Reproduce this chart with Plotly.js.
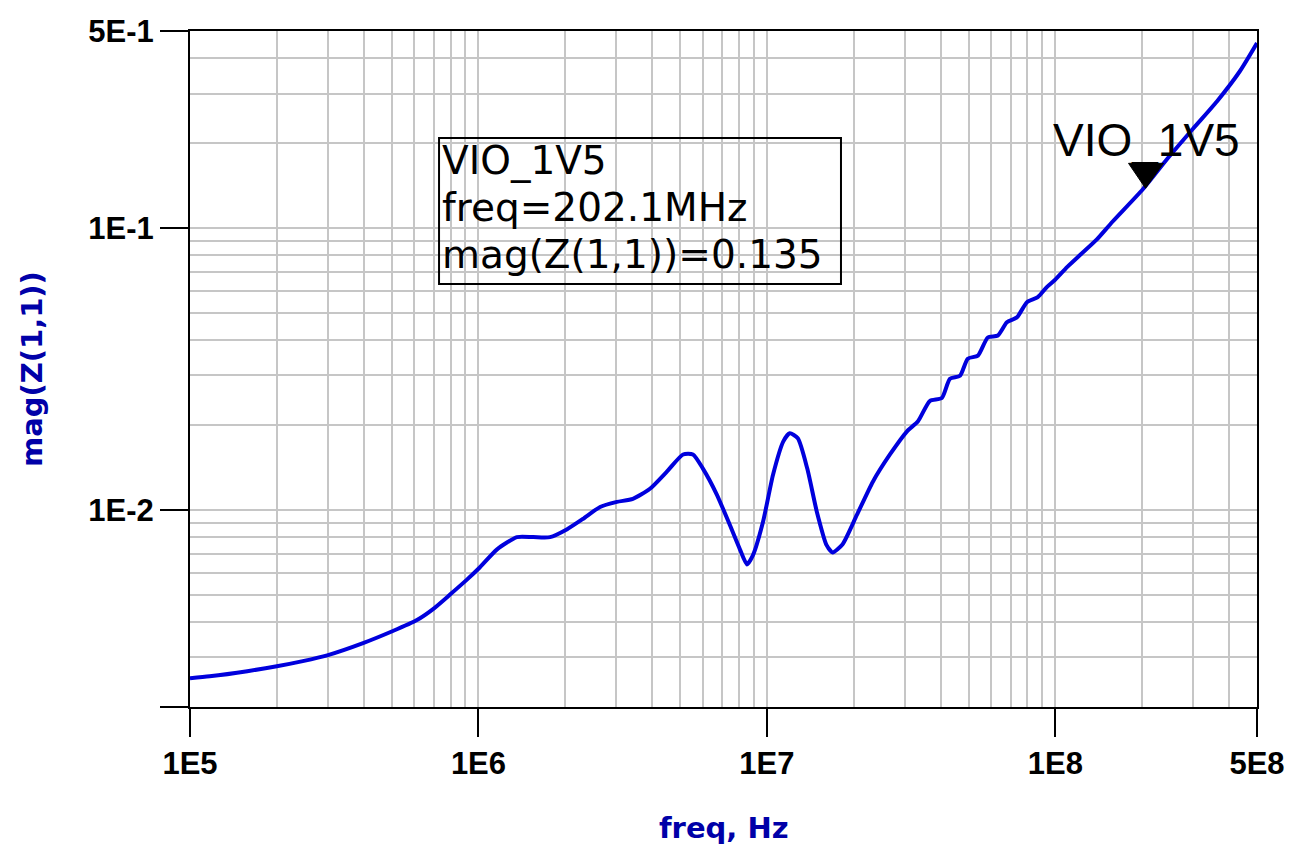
<!DOCTYPE html>
<html>
<head>
<meta charset="utf-8">
<script src="https://cdn.plot.ly/plotly-3.0.1.min.js"></script>
<style>html,body{margin:0;padding:0;background:#fff;}#chart{width:1293px;height:846px;}</style>
</head>
<body>
<div id="chart"></div>
<script>
// Frequency (Hz) and impedance magnitude
const freq = [1.0e5, 1.17e5, 1.58e5, 2.0e5, 2.46e5, 2.99e5, 3.98e5, 5.05e5, 6.12e5, 6.96e5,
  7.97e5, 9.12e5, 1.01e6, 1.16e6, 1.36e6, 1.55e6, 1.77e6, 2.03e6, 2.30e6, 2.64e6,
  3.02e6, 3.43e6, 3.93e6, 4.50e6, 5.12e6, 5.54e6, 6.00e6, 6.71e6, 7.44e6, 8.06e6,
  8.53e6, 8.94e6, 9.69e6, 1.05e7, 1.14e7, 1.20e7, 1.28e7, 1.38e7, 1.49e7, 1.61e7,
  1.69e7, 1.83e7, 2.05e7, 2.33e7, 2.67e7, 3.06e7, 3.34e7, 3.67e7, 4.04e7, 4.31e7,
  4.67e7, 4.97e7, 5.39e7, 5.83e7, 6.32e7, 6.79e7, 7.36e7, 7.97e7, 8.69e7, 9.34e7,
  9.96e7, 1.10e8, 1.22e8, 1.39e8, 1.58e8, 2.01e8, 2.44e8, 3.00e8, 3.63e8, 4.36e8, 5.0e8];
const mag = [2.53e-3, 2.57e-3, 2.68e-3, 2.79e-3, 2.91e-3, 3.05e-3, 3.37e-3, 3.72e-3, 4.07e-3, 4.45e-3,
  5.01e-3, 5.66e-3, 6.25e-3, 7.25e-3, 8.01e-3, 8.01e-3, 8.01e-3, 8.55e-3, 9.29e-3, 1.025e-2,
  1.068e-2, 1.095e-2, 1.189e-2, 1.368e-2, 1.573e-2, 1.573e-2, 1.402e-2, 1.132e-2, 8.84e-3, 7.25e-3,
  6.41e-3, 6.90e-3, 9.06e-3, 1.334e-2, 1.751e-2, 1.870e-2, 1.795e-2, 1.402e-2, 9.84e-3, 7.50e-3,
  7.07e-3, 7.56e-3, 9.60e-3, 1.260e-2, 1.573e-2, 1.901e-2, 2.064e-2, 2.434e-2, 2.494e-2, 2.919e-2,
  2.991e-2, 3.441e-2, 3.527e-2, 4.090e-2, 4.159e-2, 4.629e-2, 4.824e-2, 5.458e-2, 5.687e-2, 6.175e-2,
  6.541e-2, 7.284e-2, 8.039e-2, 9.096e-2, 0.1055, 0.1373, 0.1758, 0.2251, 0.2812, 0.3599, 0.4532];

const xTickVals = [1e5, 1e6, 1e7, 1e8, 5e8];
const xTickText = ['1E5', '1E6', '1E7', '1E8', '5E8'];
const yTickVals = [0.002, 0.01, 0.1, 0.5];
const yTickText = ['', '1E-2', '1E-1', '5E-1'];

const markerName = 'VIO_1V5';
const markerFreq = 202.1e6;
const markerMag = 0.135;

const xRange = [Math.log10(1e5), Math.log10(5e8)];
const yRange = [Math.log10(0.002), Math.log10(0.5)];

const gridCol = '#c6c6c6';
const tickFont = {family: 'Liberation Sans, Arial, sans-serif', size: 31, color: '#000', weight: 'bold'};
const titleFont = {family: 'DejaVu Sans, sans-serif', size: 29, color: '#0000A8', weight: 'bold'};
const boxFont = {family: 'DejaVu Sans, sans-serif', size: 39, color: '#000'};
const labelFont = {family: 'Liberation Sans, Arial, sans-serif', size: 46, color: '#000'};

const trace = {
  x: freq, y: mag, type: 'scatter', mode: 'lines',
  line: {color: '#0000DD', width: 4, shape: 'spline', smoothing: 0.6},
  hoverinfo: 'x+y', showlegend: false
};

const axisCommon = {
  type: 'log', showline: true, linecolor: '#000', linewidth: 2, mirror: true,
  ticks: 'outside', ticklen: 28, tickwidth: 2, tickcolor: '#000',
  showgrid: true, gridcolor: gridCol, gridwidth: 2, zeroline: false,
  tickmode: 'array', tickfont: tickFont,
  minor: {dtick: 'D1', showgrid: true, gridcolor: gridCol, gridwidth: 2, ticks: ''}
};

const layout = {
  width: 1293, height: 846,
  margin: {l: 190, r: 36, t: 31, b: 139},
  paper_bgcolor: '#fff', plot_bgcolor: '#fff',
  showlegend: false,
  xaxis: Object.assign({}, axisCommon, {range: xRange, tickvals: xTickVals, ticktext: xTickText}),
  yaxis: Object.assign({}, axisCommon, {range: yRange, tickvals: yTickVals, ticktext: yTickText}),
  shapes: [
    {type: 'rect', xref: 'paper', yref: 'paper', x0: 0.2334, x1: 0.6101, y0: 0.6257, y1: 0.8417,
     line: {color: '#000', width: 2}, fillcolor: 'rgba(255,255,255,0)', layer: 'above'},
    {type: 'path', xref: 'x', yref: 'y', xsizemode: 'pixel', ysizemode: 'pixel',
     xanchor: markerFreq, yanchor: markerMag,
     path: 'M-15,28 L20,28 L2,3 Z', fillcolor: '#000', line: {color: '#000', width: 1}, layer: 'above'}
  ],
  annotations: [
    {xref: 'paper', yref: 'paper', x: 0.5, y: -0.179, text: 'freq, Hz', showarrow: false,
     xanchor: 'center', yanchor: 'middle', font: titleFont},
    {xref: 'paper', yref: 'paper', x: -0.148, y: 0.5, text: 'mag(Z(1,1))', showarrow: false,
     textangle: -90, xanchor: 'center', yanchor: 'middle', font: titleFont},
    {xref: 'paper', yref: 'paper', x: 0.2355, y: 0.8077, text: markerName, showarrow: false,
     xanchor: 'left', yanchor: 'middle', font: boxFont, borderpad: 0},
    {xref: 'paper', yref: 'paper', x: 0.2355, y: 0.7396, text: 'freq=' + (markerFreq / 1e6).toFixed(1) + 'MHz',
     showarrow: false, xanchor: 'left', yanchor: 'middle', font: boxFont, borderpad: 0},
    {xref: 'paper', yref: 'paper', x: 0.2355, y: 0.6701, text: 'mag(Z(1,1))=' + markerMag.toFixed(3),
     showarrow: false, xanchor: 'left', yanchor: 'middle', font: boxFont, borderpad: 0},
    {xref: 'x', yref: 'y', x: Math.log10(markerFreq), y: Math.log10(markerMag), text: markerName,
     showarrow: false, xanchor: 'center', yanchor: 'middle', yshift: 51, xshift: 3, font: labelFont}
  ]
};

Plotly.newPlot('chart', [trace], layout, {displayModeBar: false, staticPlot: true});
</script>
</body>
</html>
